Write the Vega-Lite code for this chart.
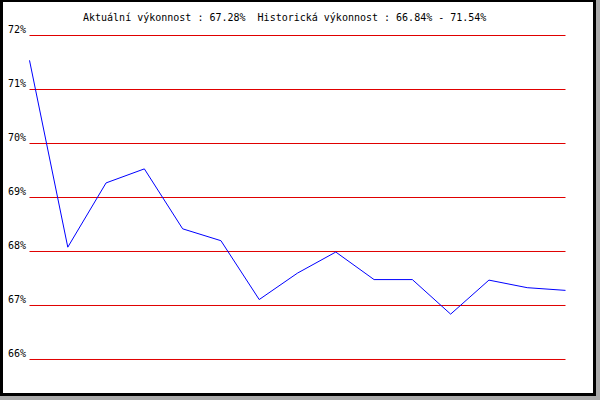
{
  "$schema": "https://vega.github.io/schema/vega-lite/v6.json",
  "width": 593,
  "height": 394,
  "autosize": "none",
  "padding": {"left": 1.5, "top": 0.5, "right": 5.5, "bottom": 5.5},
  "background": "#aaaaaa",
  "config": {
    "view": {"fill": "white", "stroke": "black", "strokeWidth": 3},
    "font": "DejaVu Sans Mono"
  },
  "title": {
    "text": "Aktuální výkonnost : 67.28%\u00a0 Historická výkonnost : 66.84% - 71.54%",
    "anchor": "start",
    "frame": "group",
    "dx": 81.5,
    "offset": -30.5,
    "baseline": "alphabetic",
    "font": "DejaVu Sans Mono",
    "fontSize": 10,
    "fontWeight": "normal",
    "color": "black"
  },
  "datasets": {
    "grid": [
      {"g": 66, "x0": 0, "x1": 14},
      {"g": 67, "x0": 0, "x1": 14},
      {"g": 68, "x0": 0, "x1": 14},
      {"g": 69, "x0": 0, "x1": 14},
      {"g": 70, "x0": 0, "x1": 14},
      {"g": 71, "x0": 0, "x1": 14},
      {"g": 72, "x0": 0, "x1": 14}
    ],
    "perf": [
      {"i": 0, "v": 71.54},
      {"i": 1, "v": 68.08},
      {"i": 2, "v": 69.27},
      {"i": 3, "v": 69.53},
      {"i": 4, "v": 68.42},
      {"i": 5, "v": 68.20},
      {"i": 6, "v": 67.11},
      {"i": 7, "v": 67.60},
      {"i": 8, "v": 67.99},
      {"i": 9, "v": 67.48},
      {"i": 10, "v": 67.48},
      {"i": 11, "v": 66.84},
      {"i": 12, "v": 67.47},
      {"i": 13, "v": 67.33},
      {"i": 14, "v": 67.28}
    ]
  },
  "layer": [
    {
      "data": {"name": "grid"},
      "mark": {"type": "rule", "stroke": "#e00000", "strokeWidth": 1},
      "encoding": {
        "x": {"field": "x0", "type": "quantitative", "scale": {"domain": [-0.73134, 14.75746], "nice": false, "zero": false}, "axis": null},
        "x2": {"field": "x1"},
        "y": {"field": "g", "type": "quantitative", "scale": {"domain": [65.35185, 72.64815], "nice": false, "zero": false},
          "axis": {
            "values": [66, 67, 68, 69, 70, 71, 72],
            "labelExpr": "datum.value + '%'",
            "orient": "left",
            "offset": -28,
            "domain": false,
            "ticks": false,
            "grid": false,
            "title": null,
            "labelFont": "DejaVu Sans Mono",
            "labelFontSize": 10,
            "labelColor": "black",
            "labelAlign": "right",
            "labelBaseline": "alphabetic",
            "labelOffset": -3,
            "labelPadding": 4
          }
        }
      }
    },
    {
      "data": {"name": "perf"},
      "mark": {"type": "line", "stroke": "#0000ff", "strokeWidth": 1},
      "encoding": {
        "x": {"field": "i", "type": "quantitative"},
        "y": {"field": "v", "type": "quantitative"}
      }
    }
  ]
}
